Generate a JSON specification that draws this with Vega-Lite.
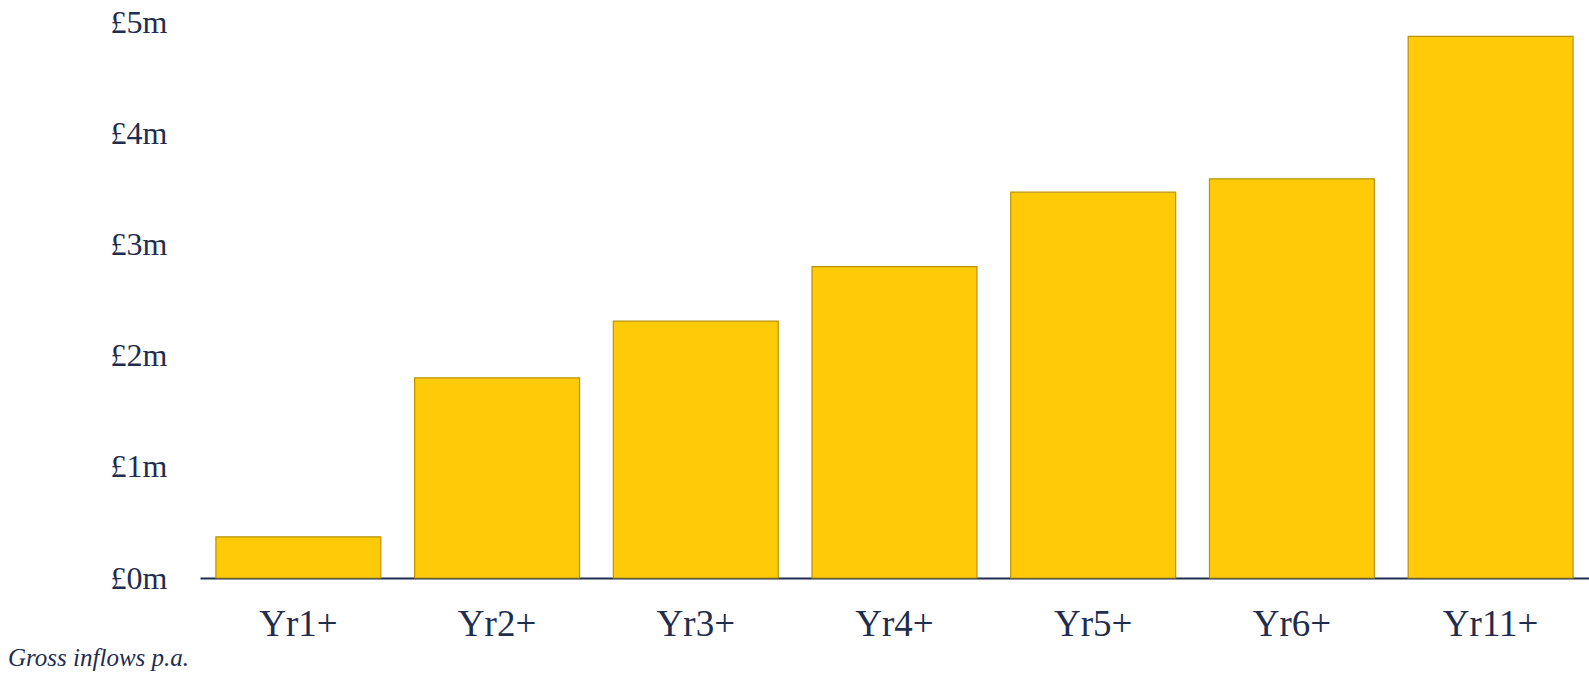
{
  "$schema": "https://vega.github.io/schema/vega-lite/v6.json",
  "autosize": "none",
  "width": 1389,
  "height": 556,
  "padding": {"left": 200, "top": 22, "right": 0, "bottom": 95},
  "background": "white",
  "config": {"view": {"stroke": null}, "font": "Liberation Serif"},
  "title": {
    "text": "Gross inflows p.a.",
    "orient": "bottom",
    "anchor": "start",
    "frame": "group",
    "dx": -192,
    "offset": 4,
    "font": "Liberation Serif",
    "fontStyle": "italic",
    "fontWeight": "normal",
    "fontSize": 25,
    "color": "#1F2D4E"
  },
  "data": {
    "values": [
      {"cohort": "Yr1+", "inflow": 0.37},
      {"cohort": "Yr2+", "inflow": 1.8},
      {"cohort": "Yr3+", "inflow": 2.31},
      {"cohort": "Yr4+", "inflow": 2.8},
      {"cohort": "Yr5+", "inflow": 3.47},
      {"cohort": "Yr6+", "inflow": 3.59},
      {"cohort": "Yr11+", "inflow": 4.87}
    ]
  },
  "mark": {"type": "bar", "fill": "#FFCA08", "stroke": "#B8930A", "strokeWidth": 1.2},
  "encoding": {
    "x": {
      "field": "cohort",
      "type": "nominal",
      "sort": null,
      "scale": {"paddingInner": 0.17, "paddingOuter": 0.08},
      "axis": {
        "title": null,
        "labelAngle": 0,
        "labelFont": "Liberation Serif",
        "labelFontSize": 37,
        "labelColor": "#1F2D4E",
        "labelPadding": 28,
        "labelBaseline": "top",
        "ticks": false,
        "domainColor": "#1F2D4E",
        "domainWidth": 2,
        "grid": false
      }
    },
    "y": {
      "field": "inflow",
      "type": "quantitative",
      "scale": {"domain": [0, 5], "nice": false},
      "axis": {
        "title": null,
        "values": [0, 1, 2, 3, 4, 5],
        "labelExpr": "'£' + datum.value + 'm'",
        "labelFont": "Liberation Serif",
        "labelFontSize": 32,
        "labelColor": "#1F2D4E",
        "labelPadding": 33,
        "ticks": false,
        "domain": false,
        "grid": false
      }
    }
  }
}
